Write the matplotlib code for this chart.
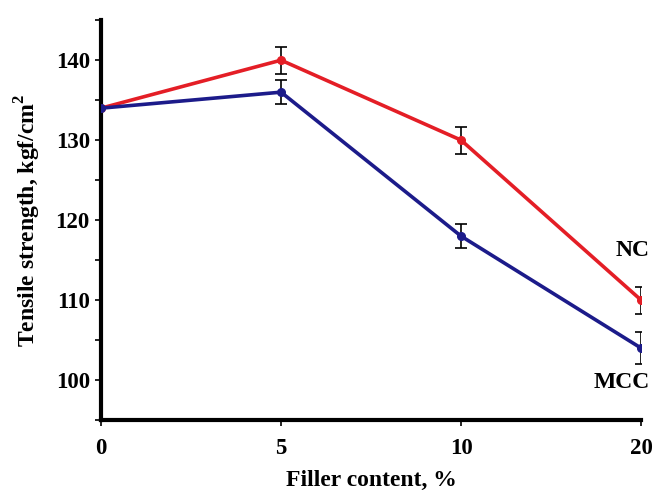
import matplotlib
matplotlib.use("Agg")
import matplotlib.pyplot as plt
import numpy as np

filler = ["0", "5", "10", "20"]
nc = [134, 140, 130, 110]
nc_err = [0, 1.7, 1.7, 1.7]
mcc = [134, 136, 118, 104]
mcc_err = [0, 1.5, 1.5, 2.0]

plt.rcParams['font.family'] = ['Liberation Serif', 'DejaVu Serif']
plt.rcParams['font.weight'] = 'bold'
plt.rcParams['mathtext.fontset'] = 'custom'
plt.rcParams['mathtext.bf'] = 'Liberation Serif:bold'
plt.rcParams['mathtext.rm'] = 'Liberation Serif:bold'

fig = plt.figure(figsize=(6.54, 4.92), dpi=100)
ax = fig.add_axes([0.1544, 0.146, 0.826, 0.813])
x = np.arange(len(filler))

ax.errorbar(x, nc, yerr=nc_err, color='#e41e26', lw=2.6, marker='o', ms=5.5,
            ecolor='black', elinewidth=1.2, capsize=4, capthick=1.2, zorder=3)
ax.errorbar(x, mcc, yerr=mcc_err, color='#1c1b8a', lw=2.6, marker='o', ms=5.5,
            ecolor='black', elinewidth=1.2, capsize=4, capthick=1.2, zorder=4)

ax.set_xlim(0, 3)
ax.set_ylim(95, 145)
ax.set_xticks(x)
ax.set_xticklabels(filler)
ax.set_yticks([100, 110, 120, 130, 140])
ax.set_yticks([95, 105, 115, 125, 135, 145], minor=True)

for s in ['top', 'right']:
    ax.spines[s].set_visible(False)
for s in ['left', 'bottom']:
    ax.spines[s].set_linewidth(3)
ax.tick_params(axis='both', which='major', length=4, width=1.2, labelsize=16.5, pad=4)
ax.tick_params(axis='y', which='minor', length=4, width=1.2)
ax.tick_params(axis='x', which='major', pad=9)
for lab in ax.get_xticklabels() + ax.get_yticklabels():
    lab.set_fontweight('bold')

ax.set_xlabel("Filler content, %", fontsize=17, fontweight='bold', labelpad=8)
ax.set_ylabel("Tensile strength, kgf/cm$^\\mathbf{2}$", fontsize=17, fontweight='bold', labelpad=9)

ax.annotate("NC", xy=(3, nc[3]), xytext=(6, 36), textcoords='offset points',
            ha='right', va='center', fontsize=17, fontweight='bold', annotation_clip=False)
ax.annotate("MCC", xy=(3, mcc[3]), xytext=(6, -25), textcoords='offset points',
            ha='right', va='center', fontsize=17, fontweight='bold', annotation_clip=False)

fig.savefig("out.png", dpi=100)
